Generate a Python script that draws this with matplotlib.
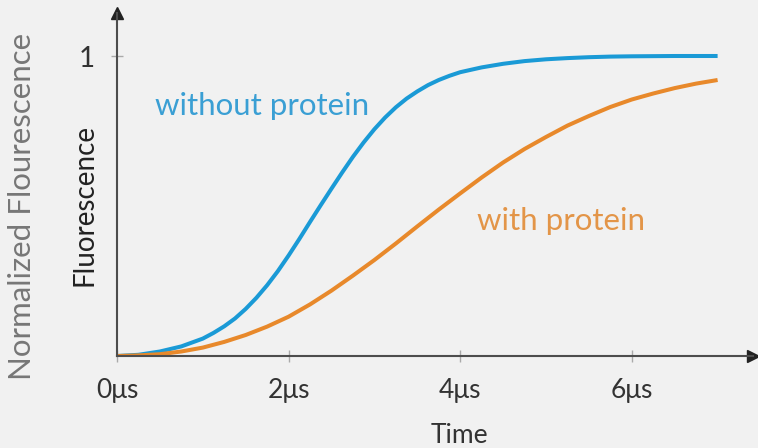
import matplotlib.pyplot as plt

# time in microseconds
t_without = [0, 0.25, 0.5, 0.75, 1.0, 1.125, 1.25, 1.375, 1.5, 1.625, 1.75, 1.875, 2.0,
             2.125, 2.25, 2.375, 2.5, 2.625, 2.75, 2.875, 3.0, 3.125, 3.25, 3.375, 3.5,
             3.625, 3.75, 3.875, 4.0, 4.25, 4.5, 4.75, 5.0, 5.25, 5.5, 5.75, 6.0, 6.5, 7.0]
without_protein = [0.0, 0.004, 0.015, 0.032, 0.058, 0.077, 0.099, 0.125, 0.157, 0.194, 0.236,
                   0.283, 0.335, 0.39, 0.447, 0.503, 0.558, 0.612, 0.664, 0.712, 0.756, 0.795,
                   0.829, 0.858, 0.882, 0.903, 0.92, 0.934, 0.946, 0.962, 0.974, 0.983, 0.989,
                   0.993, 0.996, 0.998, 0.999, 1.0, 1.0]
t_with = [0, 0.25, 0.5, 0.75, 1.0, 1.25, 1.5, 1.75, 2.0, 2.25, 2.5, 2.75, 3.0, 3.25, 3.5,
          3.75, 4.0, 4.25, 4.5, 4.75, 5.0, 5.25, 5.5, 5.75, 6.0, 6.25, 6.5, 6.75, 7.0]
with_protein = [0.0, 0.002, 0.006, 0.015, 0.028, 0.047, 0.07, 0.098, 0.131, 0.172, 0.218, 0.268,
                0.32, 0.375, 0.432, 0.488, 0.542, 0.595, 0.645, 0.69, 0.73, 0.768, 0.80, 0.83,
                0.855, 0.875, 0.893, 0.908, 0.92]
xticks = [0, 2, 4, 6]
xtick_labels = ['0μs', '2μs', '4μs', '6μs']

plt.rcParams['font.family'] = ['Lato', 'DejaVu Sans']

bg = '#f1f1f1'
blue = '#1a9ad6'
orange = '#e8892b'

fig = plt.figure(figsize=(7.58, 4.48), dpi=100, facecolor=bg)
ax = fig.add_axes([117 / 758, 92 / 448, 636 / 758, 343 / 448], facecolor=bg)

ax.plot(t_without, without_protein, color=blue, lw=2.9, solid_capstyle='butt')
ax.plot(t_with, with_protein, color=orange, lw=2.9, solid_capstyle='butt')

ax.set_xlim(0, 636 / 85.8)
ax.set_ylim(0, 343 / 300)

for s in ['top', 'right']:
    ax.spines[s].set_visible(False)
for s in ['left', 'bottom']:
    ax.spines[s].set_color('#4d4d4d')
    ax.spines[s].set_linewidth(1.5)

# arrow heads
ax.plot(1, 0, '>', color='#222222', ms=8, transform=ax.transAxes, clip_on=False)
ax.plot(0, 1, '^', color='#222222', ms=8, transform=ax.transAxes, clip_on=False)

ax.set_xticks(xticks)
ax.set_xticklabels(xtick_labels, fontsize=19, color='#333333')
ax.set_yticks([1])
ax.set_yticklabels(['1'], fontsize=20, color='#333333')
ax.tick_params(direction='inout', length=8, width=1, color='#aaaaaa', pad=12)
ax.tick_params(axis='y', pad=12)

ax.set_xlabel('Time', fontsize=19, color='#333333')
ax.xaxis.set_label_coords((459 - 117) / 636, -0.195)
ax.set_ylabel('Fluorescence', fontsize=20, color='#222222')
ax.yaxis.set_label_coords(-0.030, 0.44)

fig.text(22 / 758, 1 - 206 / 448, 'Normalized Flourescence', rotation=90, fontsize=22.5,
         color='#777777', ha='center', va='center')

ax.text(0.44, 0.835, 'without protein', color='#3a9fd4', fontsize=22.5, va='center')
ax.text(4.2, 0.45, 'with protein', color='#e39548', fontsize=22.5, va='center')

fig.savefig('out.png', dpi=100, facecolor=bg)
